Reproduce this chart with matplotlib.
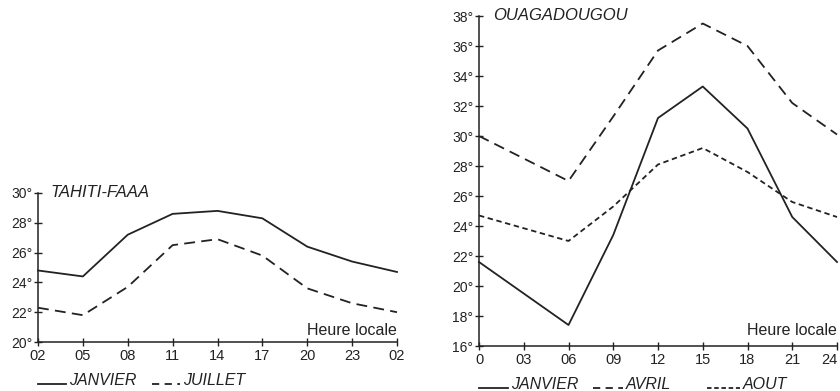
import matplotlib as mtp
mtp.use("Agg")
import matplotlib.pyplot as plt
from matplotlib.lines import Line2D

plt.rcParams['font.family'] = ['Liberation Sans', 'DejaVu Sans']

# Tahiti-Faaa, every 3 hours from 02h to 02h
tahiti_hours = [0, 1, 2, 3, 4, 5, 6, 7, 8]
tahiti_labels = ['02', '05', '08', '11', '14', '17', '20', '23', '02']
tahiti_janvier = [24.8, 24.4, 27.2, 28.6, 28.8, 28.3, 26.4, 25.4, 24.7]
tahiti_juillet = [22.3, 21.8, 23.7, 26.5, 26.9, 25.8, 23.6, 22.6, 22.0]

# Ouagadougou
ouaga_hours = [0, 6, 9, 12, 15, 18, 21, 24]
ouaga_ticks = [0, 3, 6, 9, 12, 15, 18, 21, 24]
ouaga_labels = ['0', '03', '06', '09', '12', '15', '18', '21', '24']
ouaga_janvier = [21.6, 17.4, 23.4, 31.2, 33.3, 30.5, 24.6, 21.6]
ouaga_avril = [30.0, 27.0, 31.3, 35.7, 37.5, 36.0, 32.2, 30.1]
ouaga_aout = [24.7, 23.0, 25.3, 28.1, 29.2, 27.6, 25.6, 24.6]

W, H = 840, 391
INK = '#222222'
LONG = (0, (6, 3.5))
SHORT = (0, (3, 2))
LW = 1.3


def px(x0, y0, x1, y1):
    # pixel box -> figure fraction [left, bottom, width, height]
    return [x0 / W, 1 - y1 / H, (x1 - x0) / W, (y1 - y0) / H]


def style_axes(ax):
    for s in ['top', 'right']:
        ax.spines[s].set_visible(False)
    for s in ['left', 'bottom']:
        ax.spines[s].set_linewidth(1.1)
        ax.spines[s].set_color(INK)
    ax.tick_params(axis='y', direction='inout', length=6, width=1.0,
                   labelsize=10, pad=1, colors=INK)
    ax.tick_params(axis='x', direction='inout', length=6, width=1.0,
                   labelsize=10.5, pad=2, colors=INK)
    ax.text(1.0, 0.025, 'Heure locale', transform=ax.transAxes,
            ha='right', va='bottom', fontsize=11.5, color=INK)


fig = plt.figure(figsize=(W / 100, H / 100), dpi=100)

# left panel
ax1 = fig.add_axes(px(38, 193, 397, 342))
ax1.plot(tahiti_hours, tahiti_janvier, color=INK, lw=LW, clip_on=False)
ax1.plot(tahiti_hours, tahiti_juillet, color=INK, lw=LW, ls=LONG, clip_on=False)
ax1.set_xlim(0, 8)
ax1.set_ylim(20, 30)
ax1.set_xticks(tahiti_hours)
ax1.set_xticklabels(tahiti_labels)
ax1.set_yticks(range(20, 31, 2))
ax1.set_yticklabels(['{}°'.format(v) for v in range(20, 31, 2)])
style_axes(ax1)
ax1.text(0.035, 1.0, 'TAHITI-FAAA', transform=ax1.transAxes, style='italic',
         ha='left', va='center', fontsize=12, color=INK)

# right panel
ax2 = fig.add_axes(px(479, 16, 837, 346))
ax2.plot(ouaga_hours, ouaga_janvier, color=INK, lw=LW, clip_on=False)
ax2.plot(ouaga_hours, ouaga_avril, color=INK, lw=LW, ls=LONG, clip_on=False)
ax2.plot(ouaga_hours, ouaga_aout, color=INK, lw=LW, ls=SHORT, clip_on=False)
ax2.set_xlim(0, 24)
ax2.set_ylim(16, 38)
ax2.set_xticks(ouaga_ticks)
ax2.set_xticklabels(ouaga_labels)
ax2.get_xticklabels()[-1].set_horizontalalignment('right')
ax2.set_yticks(range(16, 39, 2))
ax2.set_yticklabels(['{}°'.format(v) for v in range(16, 39, 2)])
style_axes(ax2)
ax2.text(0.04, 1.0, 'OUAGADOUGOU', transform=ax2.transAxes, style='italic',
         ha='left', va='center', fontsize=12, color=INK)


# legends drawn under each panel
def legend_item(x0, x1, y_line, y_text, ls, label):
    fig.add_artist(Line2D([x0 / W, x1 / W], [1 - y_line / H, 1 - y_line / H],
                          color=INK, lw=LW, ls=ls))
    fig.text((x1 + 3) / W, 1 - y_text / H, label, style='italic',
             ha='left', va='baseline', fontsize=11.5, color=INK)


legend_item(38, 66, 384, 385, '-', 'JANVIER')
legend_item(152, 180, 384, 385, (0, (4, 3)), 'JUILLET')
legend_item(479, 508, 388, 389, '-', 'JANVIER')
legend_item(593, 623, 388, 389, (0, (4, 3)), 'AVRIL')
legend_item(707, 740, 388, 389, (0, (2.5, 1.5)), 'AOUT')

plt.savefig('out.png', dpi=100)
